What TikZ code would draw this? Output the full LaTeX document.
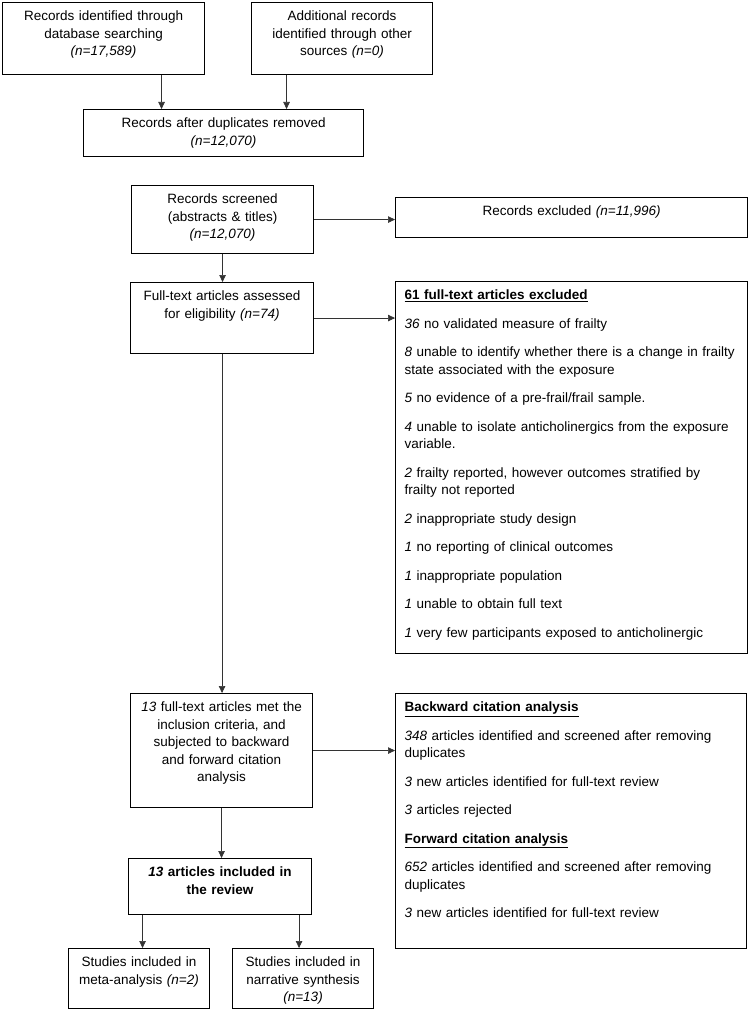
\documentclass[tikz,border=0pt]{standalone}
\usepackage{fontspec}
\setmainfont{Liberation Sans}
\usetikzlibrary{arrows.meta}
\newcommand{\flowfont}{\fontsize{13.5}{17.5}\selectfont}
\newcommand{\nn}[1]{\textit{(n=#1)}}
\tikzset{
  box/.style={draw=black, line width=1.1pt, anchor=north west, inner xsep=4pt, inner ysep=8pt,
    text height=10pt, align=center, font=\flowfont},
  listbox/.style={box, inner xsep=9pt, align=left},
  arr/.style={draw=black!80, line width=0.7pt, -{Triangle[length=7pt,width=6.5pt]}},
}
\begin{document}
\begin{tikzpicture}[x=1pt, y=-1pt]
\useasboundingbox (0,0) rectangle (749,1011);

% identification
\node[box, text width=194pt, text depth=46pt] (db) at (2,2) {Records identified through\\database searching\\\nn{17,589}};
\node[box, text width=173pt, text depth=46pt] (other) at (251,2) {Additional records\\identified through other\\sources \nn{0}};
\node[box, text width=272pt, text depth=21pt] (dup) at (83,109) {Records after duplicates removed\\\nn{12,070}};

% screening
\node[box, text width=174pt, text depth=42pt] (screen) at (131,185) {Records screened\\(abstracts \& titles)\\\nn{12,070}};
\node[box, text width=344pt, text depth=14pt] (excl) at (395,197) {Records excluded \nn{11,996}\hspace*{60pt}};

% eligibility
\node[box, text width=175pt, text depth=45pt] (full) at (130,282) {Full-text articles assessed\\for eligibility \nn{74}};
\node[listbox, text width=334pt, text depth=346pt] (fte) at (395,281) {%
  \underline{\textbf{61 full-text articles excluded}}\\[11pt]
  \textit{36} no validated measure of frailty\\[11pt]
  \textit{8} unable to identify whether there is a change in frailty\\
  state associated with the exposure\\[11pt]
  \textit{5} no evidence of a pre-frail/frail sample.\\[11pt]
  \textit{4} unable to isolate anticholinergics from the exposure\\
  variable.\\[11pt]
  \textit{2} frailty reported, however outcomes stratified by\\
  frailty not reported\\[11pt]
  \textit{2} inappropriate study design\\[11pt]
  \textit{1} no reporting of clinical outcomes\\[11pt]
  \textit{1} inappropriate population\\[11pt]
  \textit{1} unable to obtain full text\\[11pt]
  \textit{1} very few participants exposed to anticholinergic};

\node[box, text width=174pt, text depth=88pt] (met) at (130,693) {\textit{13} full-text articles met the\\inclusion criteria, and\\subjected to backward\\and forward citation\\analysis};
\node[listbox, text width=333pt, text depth=229pt] (cit) at (395,693) {%
  \underline{\textbf{Backward citation analysis}}\\[11pt]
  \textit{348} articles identified and screened after removing\\
  duplicates\\[11pt]
  \textit{3} new articles identified for full-text review\\[11pt]
  \textit{3} articles rejected\\[11pt]
  \underline{\textbf{Forward citation analysis}}\\[11pt]
  \textit{652} articles identified and screened after removing\\
  duplicates\\[11pt]
  \textit{3} new articles identified for full-text review};

% included
\node[box, text width=175pt, text depth=30pt, font=\flowfont\bfseries] (incl) at (128,858) {\textit{13} articles included in\\the review};
\node[box, text width=133pt, text depth=34pt] (meta) at (68,948) {Studies included in\\meta-analysis \nn{2}};
\node[box, text width=133pt, text depth=34pt] (narr) at (232,948) {Studies included in\\narrative synthesis\\\nn{13}};

% connectors
\draw[arr] ([xshift=58pt]db.south) -- ([xshift=58pt]db.south |- dup.north);
\draw[arr] ([xshift=-55.5pt]other.south) -- ([xshift=-55.5pt]other.south |- dup.north);
\draw[arr] (screen.east) -- (screen.east -| excl.west);
\draw[arr] (screen.south) -- (screen.south |- full.north);
\draw[arr] (full.east) -- (full.east -| fte.west);
\draw[arr] (full.south) -- (full.south |- met.north);
\draw[arr] (met.east) -- (met.east -| cit.west);
\draw[arr] (met.south) -- (met.south |- incl.north);
\draw[arr] ([xshift=3.5pt]meta.north |- incl.south) -- ([xshift=3.5pt]meta.north);
\draw[arr] ([xshift=-4pt]narr.north |- incl.south) -- ([xshift=-4pt]narr.north);
\end{tikzpicture}
\end{document}
